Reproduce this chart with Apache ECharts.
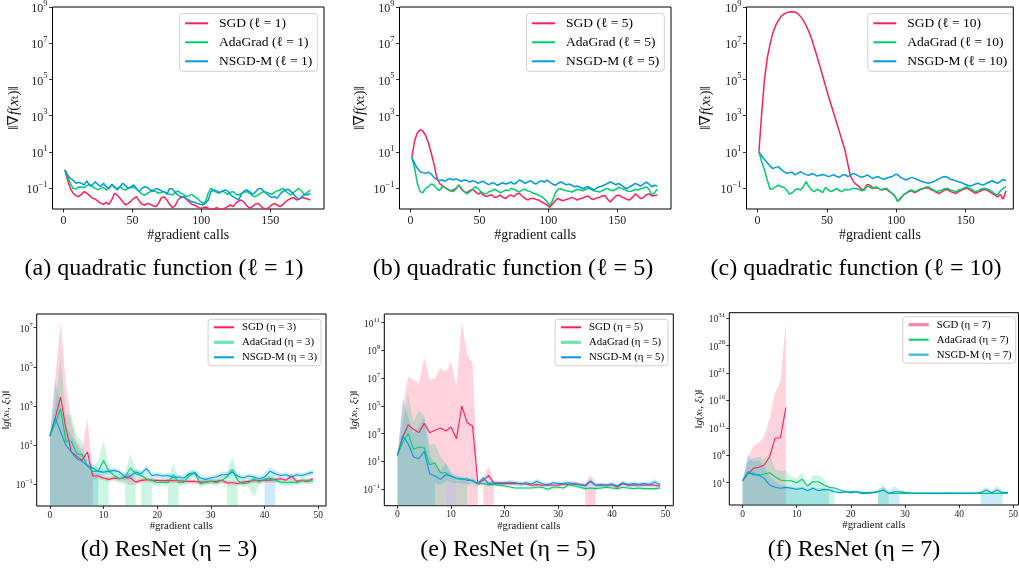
<!DOCTYPE html>
<html><head><meta charset="utf-8">
<script src="https://cdn.jsdelivr.net/npm/echarts@6/dist/echarts.min.js"></script>
<style>html,body{margin:0;padding:0;background:#fff}#c{width:1019px;height:569px}</style>
</head><body><div id="c"></div>
<script>
// ---------- DATA (all y values are log10 of the plotted norm) ----------
// top row: gradient calls 1,3,5,...,179
const TOP_X = Array.from({length: 90}, (_, i) => 2 * i + 1);
const A_SGD = [0,-0.56,-1.02,-1.29,-1.42,-1.48,-1.35,-1.2,-1.29,-1.42,-1.57,-1.61,-1.72,-1.85,-1.9,-1.79,-1.9,-1.66,-1.29,-1.39,-1.57,-1.76,-1.94,-1.85,-1.72,-1.57,-1.48,-1.72,-1.9,-1.94,-1.85,-1.9,-1.98,-2.03,-1.85,-1.53,-1.48,-1.66,-1.9,-2.09,-1.98,-1.66,-1.53,-1.48,-1.61,-1.76,-1.9,-1.94,-2.03,-2.12,-2.09,-2.05,-2.12,-2.2,-2.16,-2.09,-2.16,-2.2,-2.12,-2.03,-1.94,-2.03,-1.85,-1.72,-1.66,-1.79,-1.98,-2.12,-2.03,-1.9,-1.85,-1.98,-2.12,-2.16,-2.09,-1.94,-1.85,-1.94,-2.03,-1.94,-1.76,-1.66,-1.57,-1.53,-1.66,-1.61,-1.53,-1.57,-1.61,-1.66];
const A_ADA = [0,-0.37,-0.74,-1.02,-1.06,-0.93,-0.94,-0.98,-0.87,-0.8,-0.93,-1.02,-1.09,-1.02,-0.98,-1.11,-1.02,-0.8,-0.98,-1.02,-0.93,-1.06,-1.11,-1.02,-0.98,-0.93,-1.06,-1.2,-1.35,-1.39,-1.29,-1.2,-1.11,-1.2,-1.29,-1.24,-1.2,-1.29,-1.35,-1.39,-1.24,-1.16,-1.29,-1.35,-1.48,-1.42,-1.35,-1.48,-1.57,-1.72,-1.85,-1.76,-1.29,-1.02,-1.16,-1.24,-1.29,-1.16,-1.24,-1.35,-1.24,-1.2,-1.35,-1.39,-1.29,-1.24,-1.2,-1.29,-1.42,-1.48,-1.39,-1.29,-1.2,-1.24,-1.29,-1.35,-1.24,-1.16,-1.11,-1.02,-1.16,-1.29,-1.39,-1.24,-1.11,-1.02,-1.2,-1.39,-1.24,-1.11];
const A_NSGD = [0,-0.28,-0.47,-0.56,-0.74,-0.69,-0.74,-0.83,-0.61,-0.87,-0.83,-0.65,-0.8,-0.93,-0.74,-0.93,-1.02,-0.8,-0.93,-1.11,-0.93,-0.74,-0.87,-1.02,-0.93,-0.83,-1.02,-1.2,-1.02,-0.93,-0.98,-1.11,-1.2,-1.02,-1.07,-1.16,-1.2,-1.35,-1.02,-1.05,-1.24,-1.39,-1.48,-1.48,-1.61,-1.66,-1.76,-1.79,-1.85,-1.9,-1.94,-1.85,-1.66,-1.2,-1.11,-1.16,-1.24,-1.2,-1.11,-1.16,-1.35,-1.48,-1.57,-1.66,-1.35,-1.16,-1.11,-1.2,-1.35,-1.24,-1.05,-1.02,-1.16,-1.29,-1.42,-1.53,-1.48,-1.57,-1.35,-1.2,-1.11,-1.07,-1.2,-1.35,-1.53,-1.61,-1.48,-1.35,-1.39,-1.29];
const B_SGD = [0.69,1.6,2.05,2.22,2.15,1.9,1.5,0.95,0.35,-0.4,-0.74,-0.89,-0.96,-1.07,-1.15,-1.11,-1.02,-0.83,-1.07,-1.2,-1.26,-1.15,-1.07,-1.2,-1.33,-1.26,-1.39,-1.48,-1.41,-1.37,-1.52,-1.48,-1.39,-1.52,-1.57,-1.44,-1.39,-1.48,-1.33,-1.29,-1.44,-1.57,-1.66,-1.59,-1.57,-1.63,-1.66,-1.76,-1.85,-1.94,-2.07,-1.88,-1.7,-1.57,-1.66,-1.7,-1.63,-1.59,-1.52,-1.59,-1.66,-1.59,-1.55,-1.48,-1.44,-1.59,-1.63,-1.55,-1.52,-1.44,-1.41,-1.63,-1.77,-1.59,-1.44,-1.39,-1.48,-1.55,-1.63,-1.66,-1.52,-1.33,-1.44,-1.59,-1.52,-1.37,-1.33,-1.44,-1.41,-1.39];
const B_ADA = [0.69,0.1,-0.74,-1.2,-1.26,-1.02,-0.93,-0.78,-0.83,-1.02,-1.15,-0.93,-0.96,-1.07,-1.15,-1.2,-1.07,-0.83,-1.02,-1.2,-1.33,-1.2,-1.07,-0.93,-1.02,-1.2,-1.29,-1.33,-1.2,-1.15,-1.07,-1.15,-1.26,-1.2,-1.11,-1.15,-1.02,-1.07,-1.15,-1.22,-1.11,-1.07,-1.15,-1.2,-1.29,-1.33,-1.39,-1.48,-1.59,-1.76,-1.99,-1.7,-1.29,-1.07,-1.04,-1.11,-1.15,-1.18,-1.22,-1.15,-1.07,-1.11,-1.15,-1.07,-1.02,-1.07,-1.15,-1.18,-1.22,-1.15,-1.07,-1.02,-1.11,-1.15,-1.07,-0.96,-1.02,-1.07,-1.15,-1.2,-1.15,-1.07,-1.11,-1.04,-1.0,-0.93,-1.07,-1.39,-1.26,-1.07];
const B_NSGD = [0.69,0.36,0.09,-0.1,-0.15,-0.19,-0.12,-0.23,-0.41,-0.52,-0.59,-0.56,-0.63,-0.52,-0.48,-0.56,-0.48,-0.56,-0.63,-0.56,-0.59,-0.67,-0.59,-0.65,-0.74,-0.67,-0.63,-0.74,-0.82,-0.71,-0.74,-0.85,-0.78,-0.71,-0.78,-0.74,-0.67,-0.78,-0.71,-0.56,-0.63,-0.74,-0.67,-0.59,-0.71,-0.78,-0.67,-0.59,-0.67,-0.56,-0.67,-0.78,-0.85,-0.74,-0.67,-0.74,-0.82,-0.78,-0.85,-0.93,-0.89,-0.96,-1.04,-0.96,-0.93,-1.02,-1.11,-1.0,-0.93,-0.89,-0.82,-0.74,-0.67,-0.74,-0.82,-0.74,-0.85,-0.96,-1.04,-0.93,-0.85,-0.74,-0.82,-0.89,-0.78,-0.67,-0.78,-0.93,-0.85,-0.89];
const C_SGD = [1.0,3.14,4.99,6.18,6.92,7.56,7.97,8.26,8.48,8.61,8.69,8.72,8.74,8.72,8.63,8.48,8.26,7.97,7.64,7.23,6.73,6.24,5.72,5.17,4.65,4.1,3.6,3.1,2.6,2.1,1.6,1.1,0.35,-0.35,-0.62,-0.8,-0.9,-1.1,-1.05,-0.8,-0.85,-0.98,-1.0,-1.02,-1.1,-1.08,-1.06,-1.2,-1.3,-1.45,-1.72,-1.6,-1.4,-1.3,-1.2,-1.15,-1.25,-1.2,-1.1,-1.05,-1.0,-0.98,-1.1,-1.15,-1.25,-1.3,-1.2,-1.1,-1.08,-1.2,-1.25,-1.3,-1.2,-1.12,-1.06,-1.0,-1.1,-1.2,-1.3,-1.22,-1.15,-1.08,-1.1,-1.2,-1.3,-1.4,-1.5,-1.35,-1.62,-1.15];
const C_ADA = [1.0,0.45,0.0,-0.56,-1.07,-1.04,-0.93,-0.85,-0.93,-0.96,-1.11,-1.33,-1.26,-1.11,-1.04,-1.11,-0.93,-0.65,-0.93,-1.11,-1.2,-1.07,-1.15,-1.26,-0.96,-1.11,-1.2,-1.11,-1.04,-1.15,-1.2,-1.07,-1.11,-1.07,-1.02,-1.04,-1.07,-1.15,-1.11,-0.89,-0.96,-1.04,-0.93,-1.0,-1.11,-1.04,-1.02,-1.15,-1.29,-1.44,-1.75,-1.57,-1.38,-1.29,-1.15,-1.11,-1.2,-1.15,-1.07,-1.02,-0.96,-0.93,-1.04,-1.11,-1.2,-1.15,-1.11,-1.04,-1.02,-1.11,-1.15,-1.2,-1.11,-1.07,-1.0,-0.93,-1.04,-1.11,-1.2,-1.15,-1.07,-1.02,-1.04,-1.11,-1.2,-1.33,-1.38,-1.15,-1.02,-0.93];
const C_NSGD = [1.0,0.77,0.58,0.4,0.22,0.07,0.14,0.18,0.03,-0.1,-0.19,-0.15,-0.13,-0.28,-0.19,-0.1,-0.19,-0.26,-0.3,-0.21,-0.25,-0.34,-0.3,-0.25,-0.3,-0.37,-0.32,-0.26,-0.37,-0.41,-0.3,-0.26,-0.37,-0.3,-0.19,-0.26,-0.34,-0.41,-0.37,-0.28,-0.37,-0.47,-0.41,-0.37,-0.47,-0.52,-0.45,-0.41,-0.37,-0.26,-0.26,-0.41,-0.48,-0.56,-0.48,-0.41,-0.47,-0.52,-0.6,-0.65,-0.7,-0.74,-0.7,-0.65,-0.56,-0.48,-0.41,-0.37,-0.41,-0.52,-0.56,-0.6,-0.67,-0.7,-0.78,-0.83,-0.89,-0.85,-0.78,-0.74,-0.81,-0.83,-0.74,-0.67,-0.6,-0.67,-0.74,-0.63,-0.52,-0.6];

// bottom row: gradient calls 0..49 ; null = band lower bound not positive (goes to -inf on log axis)
const BOT_X = Array.from({length: 50}, (_, i) => i);
const D_SGD = [1.46,2.38,3.46,1.84,0.65,0.44,0.22,0.65,-0.58,-0.58,-0.68,-0.75,-0.68,-0.72,-0.65,-0.68,-0.89,-0.8,-0.77,-0.79,-0.8,-0.82,-0.8,-0.82,-0.82,-0.84,-0.85,-0.85,-0.89,-0.89,-0.85,-0.85,-0.8,-0.92,-0.92,-0.96,-0.89,-0.85,-0.82,-0.82,-0.79,-0.79,-0.75,-0.72,-0.79,-0.58,-0.85,-0.8,-0.85,-0.72];
const D_SGD_UP = [1.46,4.39,7.26,4.05,2.18,1.16,0.82,2.32,-0.45,-0.47,-0.58,-0.65,-0.58,-0.62,-0.5,-0.45,-0.7,-0.7,-0.67,-0.69,-0.7,-0.72,-0.7,-0.72,-0.72,-0.74,-0.75,-0.75,-0.79,-0.79,-0.75,-0.75,-0.7,-0.82,-0.82,-0.86,-0.79,-0.75,-0.72,-0.72,-0.69,-0.69,-0.65,-0.62,-0.69,-0.42,-0.75,-0.7,-0.75,-0.62];
const D_SGD_LO = [null,null,null,null,null,null,null,null,-0.75,-0.72,-0.8,-0.88,-0.8,-0.85,-0.9,-1.05,-1.0,-0.92,-0.9,-0.92,-0.93,-0.95,-0.93,-0.95,-0.95,-0.97,-0.98,-0.98,-1.02,-1.02,-0.98,-0.98,-0.93,-1.05,-1.05,-1.09,-1.02,-0.98,-0.95,-0.95,-0.92,-0.92,-0.88,-0.85,-0.92,-0.78,-0.98,-0.93,-0.98,-0.85];
const D_ADA = [1.46,2.09,2.86,1.19,1.19,0.56,0.51,-0.07,-0.34,-0.34,0.22,-0.34,-0.55,-0.72,-0.63,-0.17,-0.46,-0.55,-0.72,-0.8,-0.92,-0.89,-0.92,-0.51,-0.92,-0.89,-0.55,-0.41,-0.97,-0.89,-0.85,-0.92,-0.8,-0.63,-0.24,-0.8,-0.97,-0.92,-0.72,-0.89,-0.75,-0.68,-0.8,-0.89,-0.92,-0.89,-0.92,-0.8,-0.8,-0.85];
const D_ADA_UP = [1.46,3.0,5.5,2.6,2.52,1.5,1.16,0.0,-0.1,0.2,1.24,-0.1,-0.4,-0.5,-0.45,0.56,-0.25,-0.35,-0.5,-0.65,-0.75,-0.7,-0.75,0.05,-0.75,-0.7,-0.4,-0.3,-0.8,-0.7,-0.7,-0.75,-0.65,-0.4,0.44,-0.6,-0.8,-0.75,-0.55,-0.7,-0.6,-0.55,-0.65,-0.75,-0.78,-0.75,-0.8,-0.68,-0.68,-0.7];
const D_ADA_LO = [null,null,null,null,null,null,null,null,null,null,null,-0.65,-0.8,-0.95,-1.0,null,-0.7,-0.8,null,-1.0,-1.1,-1.05,-1.1,null,-1.1,-1.05,-0.8,-0.6,-1.15,-1.05,-1.0,-1.1,-0.95,-0.9,null,-1.0,-1.15,-1.1,-1.65,-1.05,-0.9,-0.85,-0.95,-1.05,-1.1,-1.05,-1.05,-0.95,-0.95,-1.0];
const D_NSGD = [1.46,2.38,1.67,0.99,0.65,0.31,0.17,-0.04,-0.17,-0.34,-0.38,-0.34,-0.29,-0.38,-0.63,-0.58,-0.38,-0.46,-0.2,-0.55,-0.51,-0.58,-0.55,-0.65,-0.63,-0.68,-0.46,-0.41,-0.68,-0.75,-0.68,-0.63,-0.51,-0.51,-0.38,-0.58,-0.68,-0.58,-0.63,-0.72,-0.63,-0.34,-0.46,-0.55,-0.51,-0.63,-0.51,-0.55,-0.46,-0.38];
const D_NSGD_UP = [1.46,4.3,3.0,2.0,1.5,1.0,0.6,0.3,0.0,-0.15,-0.2,-0.2,-0.15,-0.25,-0.45,-0.4,-0.2,-0.3,-0.05,-0.4,-0.38,-0.45,-0.42,-0.5,-0.5,-0.55,-0.3,-0.25,-0.55,-0.6,-0.55,-0.5,-0.35,-0.35,-0.2,-0.45,-0.55,-0.45,-0.5,-0.6,-0.45,-0.1,-0.3,-0.42,-0.38,-0.5,-0.38,-0.42,-0.33,-0.25];
const D_NSGD_LO = [null,null,null,null,null,null,null,null,null,-0.55,-0.55,-0.5,-0.45,-0.55,-0.8,-0.75,-0.55,-0.6,-0.4,-0.7,-0.65,-0.72,-0.68,-0.8,-0.78,-0.82,-0.62,-0.58,-0.82,-0.9,-0.82,-0.78,-0.66,-0.68,-0.55,-0.72,-0.82,-0.72,-0.78,-0.85,-0.82,null,-0.62,-0.68,-0.65,-0.78,-0.65,-0.68,-0.6,-0.52];

const E_SGD = [1.43,2.75,3.64,3.31,3.07,3.74,3.07,3.24,3.4,3.19,3.48,2.63,4.99,3.79,3.55,-0.61,-0.37,-0.01,-0.61,-0.61,-0.59,-0.61,-0.61,-0.61,-0.63,-0.73,-0.68,-0.73,-0.68,-0.73,-0.73,-0.63,-0.68,-0.61,-0.68,-0.73,-0.44,-0.73,-0.73,-0.73,-0.68,-0.85,-0.61,-0.73,-0.73,-0.68,-0.73,-0.68,-0.73,-0.78];
const E_SGD_UP = [1.43,5.0,7.06,6.9,6.6,8.5,6.87,7.0,7.7,7.45,8.2,6.4,11.06,8.7,8.1,-0.4,-0.2,0.66,-0.45,-0.48,-0.47,-0.49,-0.49,-0.49,-0.5,-0.6,-0.55,-0.6,-0.55,-0.6,-0.6,-0.5,-0.55,-0.45,-0.55,-0.6,0.04,-0.6,-0.6,-0.6,-0.55,-0.72,-0.48,-0.6,-0.6,-0.55,-0.6,-0.55,-0.6,-0.65];
const E_SGD_LO = [null,null,null,null,null,null,null,null,null,null,null,null,null,null,null,-0.8,-0.6,null,-0.75,-0.75,-0.72,-0.74,-0.74,-0.74,-0.76,-0.86,-0.81,-0.86,-0.81,-0.86,-0.86,-0.76,-0.81,-0.74,-0.81,-0.86,null,-0.86,-0.86,-0.86,-0.81,-0.98,-0.74,-0.86,-0.86,-0.81,-0.86,-0.81,-0.86,-0.91];
const E_ADA = [1.43,2.39,3.0,1.87,2.03,1.96,0.76,0.9,0.18,0.18,-0.08,-0.25,-0.3,-0.25,-0.44,-0.61,-0.61,-0.68,-0.68,-0.73,-0.78,-0.85,-0.92,-0.92,-0.92,-0.92,-0.87,-0.87,-1.02,-0.87,-0.87,-0.92,-0.68,-0.78,-0.87,-0.97,-0.92,-0.97,-0.92,-0.87,-0.92,-0.97,-0.87,-0.92,-0.97,-0.92,-0.97,-0.97,-0.97,-0.92];
const E_ADA_UP = [1.43,3.84,5.85,3.84,4.7,4.27,2.2,2.3,1.35,0.87,0.15,-0.45,-0.33,-0.45,-0.69,-0.69,-0.5,-0.55,-0.58,-0.63,-0.68,-0.75,-0.82,-0.82,-0.82,-0.82,-0.77,-0.77,-0.92,-0.77,-0.77,-0.82,-0.58,-0.68,-0.77,-0.87,-0.82,-0.87,-0.82,-0.77,-0.82,-0.87,-0.77,-0.82,-0.87,-0.82,-0.87,-0.87,-0.87,-0.82];
const E_ADA_LO = [null,null,null,null,null,null,null,null,null,-0.4,-0.5,-0.6,null,-0.7,-0.75,-0.75,-0.72,-0.8,-0.8,-0.85,-0.9,-0.97,-1.04,-1.04,-1.04,-1.04,-0.99,-0.99,-1.14,-0.99,-0.99,-1.04,-0.8,-0.9,-0.99,-1.09,-1.04,-1.09,-1.04,-0.99,-1.04,-1.09,-0.99,-1.04,-1.09,-1.04,-1.09,-1.09,-1.09,-1.04];
const E_NSGD = [1.43,2.83,2.27,1.31,1.19,1.72,0.11,-0.06,-0.3,0.03,-0.06,-0.2,-0.25,-0.37,-0.37,-0.61,-0.2,-0.61,-0.54,-0.54,-0.54,-0.49,-0.54,-0.63,-0.54,-0.63,-0.44,-0.61,-0.73,-0.54,-0.61,-0.61,-0.54,-0.63,-0.68,-0.78,-0.44,-0.73,-0.68,-0.73,-0.63,-0.78,-0.54,-0.68,-0.61,-0.68,-0.61,-0.68,-0.49,-0.68];
const E_NSGD_UP = [1.43,5.55,4.2,3.0,3.5,4.2,1.5,0.8,0.3,0.9,0.2,0.0,-0.1,-0.15,-0.2,-0.45,0.0,-0.45,-0.38,-0.4,-0.4,-0.36,-0.4,-0.48,-0.4,-0.48,-0.25,-0.45,-0.58,-0.4,-0.46,-0.46,-0.4,-0.48,-0.52,-0.62,-0.25,-0.58,-0.52,-0.58,-0.48,-0.62,-0.4,-0.52,-0.46,-0.52,-0.46,-0.5,-0.3,-0.52];
const E_NSGD_LO = [null,null,null,null,null,null,null,-0.6,-0.7,-0.5,null,-0.55,-0.6,-0.65,-0.6,-0.8,-0.45,-0.8,-0.7,-0.7,-0.7,-0.64,-0.7,-0.8,-0.7,-0.8,-0.62,-0.78,-0.9,-0.7,-0.78,-0.78,-0.7,-0.8,-0.85,-0.95,-0.62,-0.9,-0.85,-0.9,-0.8,-0.95,-0.7,-0.85,-0.78,-0.85,-0.78,-0.85,-0.68,-0.85];

const F_SGD = [1.36,2.58,3.62,3.8,4.22,5.74,9.09,9.2,14.75];
const F_SGD_UP = [1.36,5.74,7.69,8.3,9.4,12.74,17.42,19.43,30.4];
const F_SGD_LO = [null,null,null,null,null,null,null,null,null];
const F_ADA = [1.36,2.7,2.7,2.4,2.58,2.82,2.09,1.49,1.36,1.36,1.0,1.61,0.39,1.18,1.18,0.57,0.15,0.03,-0.34,-0.64,-0.64,-0.64,-0.82,-0.82,-0.82,-0.64,-0.34,-0.95,-0.95,-0.95,-0.95,-0.95,-0.95,-0.95,-0.95,-0.95,-0.95,-0.95,-0.95,-0.95,-0.95,-0.95,-0.95,-0.95,-0.92,-0.95,-0.95,-0.92,-0.95,-0.9];
const F_ADA_UP = [1.36,4.83,5.44,5.74,5.26,6.3,3.43,3.19,3.19,2.09,1.79,2.82,0.57,2.4,2.4,1.79,0.27,0.15,-0.22,-0.46,-0.46,-0.46,-0.62,-0.62,-0.62,-0.44,0.57,-0.75,-0.75,-0.75,-0.75,-0.75,-0.75,-0.75,-0.75,-0.75,-0.75,-0.75,-0.75,-0.75,-0.75,-0.75,-0.75,-0.75,-0.72,-0.75,-0.75,-0.72,-0.75,-0.7];
const F_ADA_LO = [null,null,null,null,null,null,null,null,null,null,null,null,null,null,null,null,null,-0.2,-0.5,-0.8,-0.8,-0.8,-1.0,-1.0,-1.0,-0.8,null,-1.1,-1.1,-1.1,-1.1,-1.1,-1.1,-1.1,-1.1,-1.1,-1.1,-1.1,-1.1,-1.1,-1.1,-1.1,-1.1,-1.1,-1.08,-1.1,-1.1,-1.08,-1.1,-1.05];
const F_NSGD = [1.36,3.0,2.4,2.4,1.79,0.57,0.15,-0.03,0.15,-0.03,-0.22,-0.03,-0.46,-0.03,-0.46,-0.22,-0.34,-0.64,-0.82,-0.64,-0.82,-0.64,-0.95,-0.95,-0.82,-0.64,-0.34,-0.95,-0.64,-0.64,-0.82,-0.88,-0.92,-0.92,-0.92,-0.95,-0.95,-0.95,-0.88,-0.92,-0.92,-0.95,-0.92,-0.92,-0.82,-0.34,-0.82,-0.34,-0.82,-0.82];
const F_NSGD_UP = [1.36,6.05,4.83,5.14,3.92,2.09,1.18,0.57,0.5,0.35,0.15,0.35,-0.1,0.3,-0.1,0.1,-0.05,-0.35,-0.55,-0.35,-0.55,-0.35,-0.65,-0.65,-0.55,-0.3,0.27,-0.65,0.39,-0.35,-0.55,-0.6,-0.65,-0.65,-0.65,-0.68,-0.68,-0.68,-0.6,-0.65,-0.65,-0.68,-0.65,-0.65,-0.5,0.27,-0.5,0.39,-0.5,-0.55];
const F_NSGD_LO = [null,null,null,null,null,null,null,null,null,null,null,null,null,null,null,null,-0.6,-0.9,-1.05,-0.9,-1.05,-0.9,-1.15,-1.15,-1.05,-0.9,null,-1.15,null,-0.9,-1.05,-1.1,-1.12,-1.12,-1.12,-1.15,-1.15,-1.15,-1.1,-1.12,-1.12,-1.15,-1.12,-1.12,-1.05,null,null,null,-1.05,-1.05];

// tick positions (log10 exponents for y)
const TOP_XTICKS = [0, 50, 100, 150];
const BOT_XTICKS = [0, 10, 20, 30, 40, 50];
const TOP_YTICKS = [-1, 1, 3, 5, 7, 9];
const D_YTICKS = [-1, 1, 3, 5, 7];
const E_YTICKS = [-1, 1, 3, 5, 7, 9, 11];
const F_YTICKS = [1, 6, 11, 16, 21, 26, 31];

const CAPTIONS = ['(a) quadratic function (ℓ = 1)', '(b) quadratic function (ℓ = 5)', '(c) quadratic function (ℓ = 10)',
                  '(d) ResNet (η = 3)', '(e) ResNet (η = 5)', '(f) ResNet (η = 7)'];

// ---------- CHART BUILD ----------
const FONT = "'Liberation Serif', 'DejaVu Serif', serif";
const RED = '#ff1f5b', GREEN = '#00cd6c', BLUE = '#009ade';
const supTxt = v => { const r = Math.round(v); return r < 0 ? '−' + Math.abs(r) : String(r); };

const panels = [
  {grid:{left:52.5, top:7, width:271.5, height:202}, x:[-7.95,188.95], y:[-2.16,9], xt:TOP_XTICKS, yt:TOP_YTICKS, top:true,
   lines:[['SGD (ℓ = 1)',A_SGD,RED],['AdaGrad (ℓ = 1)',A_ADA,GREEN],['NSGD-M (ℓ = 1)',A_NSGD,BLUE]], legend:{right:701.7, top:13.3}, cap:[164,269], nameGap:31},
  {grid:{left:399.5, top:7, width:271.5, height:202}, x:[-7.95,188.95], y:[-2.16,9], xt:TOP_XTICKS, yt:TOP_YTICKS, top:true,
   lines:[['SGD (ℓ = 5)',B_SGD,RED],['AdaGrad (ℓ = 5)',B_ADA,GREEN],['NSGD-M (ℓ = 5)',B_NSGD,BLUE]], legend:{right:354.7, top:13.3}, cap:[513,269], nameGap:32},
  {grid:{left:746.5, top:7, width:266.8, height:202}, x:[-7.95,184.3], y:[-2.16,9], xt:TOP_XTICKS, yt:TOP_YTICKS, top:true,
   lines:[['SGD (ℓ = 10)',C_SGD,RED],['AdaGrad (ℓ = 10)',C_ADA,GREEN],['NSGD-M (ℓ = 10)',C_NSGD,BLUE]], legend:{right:6.7, top:13.3}, cap:[856,269], nameGap:33},
  {grid:{left:36.7, top:314, width:289.3, height:192}, x:[-2.45,51.45], y:[-2.11,7.70], xt:BOT_XTICKS, yt:D_YTICKS, top:false,
   lines:[['SGD (η = 3)',D_SGD,RED,D_SGD_LO,D_SGD_UP],['AdaGrad (η = 3)',D_ADA,GREEN,D_ADA_LO,D_ADA_UP],['NSGD-M (η = 3)',D_NSGD,BLUE,D_NSGD_LO,D_NSGD_UP]],
   legend:{right:698, top:319.3}, cap:[169,550], nameGap:24, thick:[1]},
  {grid:{left:384.3, top:314, width:289, height:191.7}, x:[-2.45,51.45], y:[-2.2,11.63], xt:BOT_XTICKS, yt:E_YTICKS, top:false,
   lines:[['SGD (η = 5)',E_SGD,RED,E_SGD_LO,E_SGD_UP],['AdaGrad (η = 5)',E_ADA,GREEN,E_ADA_LO,E_ADA_UP],['NSGD-M (η = 5)',E_NSGD,BLUE,E_NSGD_LO,E_NSGD_UP]],
   legend:{right:351, top:319.3}, cap:[508,550], nameGap:24, thick:[1]},
  {grid:{left:729.3, top:312.7, width:289.2, height:192.3}, x:[-2.45,50.96], y:[-3.07,32.0], xt:BOT_XTICKS, yt:F_YTICKS, top:false,
   lines:[['SGD (η = 7)',F_SGD,RED,F_SGD_LO,F_SGD_UP],['AdaGrad (η = 7)',F_ADA,GREEN,F_ADA_LO,F_ADA_UP],['NSGD-M (η = 7)',F_NSGD,BLUE,F_NSGD_LO,F_NSGD_UP]],
   legend:{right:3.3, top:316.7}, cap:[854,550], nameGap:21, thick:[0,2]}
];

// band as one polygon (upper edge then lower edge), mapped through the axes with api.coord
function bandSeries(k, xs, lo, up, color, yMin) {
  const floor = yMin - 80; // lower bound <= 0 -> -infinity on a log axis
  const data = xs.map((x, i) => [x, lo[i] == null ? floor : lo[i], up[i]]);
  return {
    type:'custom', xAxisIndex:k, yAxisIndex:k, silent:true, z:1, data, encode:{x:0, y:[1,2]},
    renderItem: (params, api) => {
      if (params.dataIndex !== 0) return null;
      const pts = [];
      for (let i = 0; i < data.length; i++) pts.push(api.coord([data[i][0], data[i][2]]));
      for (let i = data.length - 1; i >= 0; i--) pts.push(api.coord([data[i][0], data[i][1]]));
      const cs = params.coordSys;
      return {type:'polygon', shape:{points:pts}, style:{fill:color, opacity:0.2},
              clipPath:{type:'rect', shape:{x:cs.x, y:cs.y, width:cs.width, height:cs.height}}};
    }
  };
}

const option = {animation:false, backgroundColor:'#fff', grid:[], xAxis:[], yAxis:[], series:[], legend:[], graphic:[]};

panels.forEach((p, k) => {
  const T = p.top;
  const tickFs = T ? 12 : 9.5, supFs = T ? 8.5 : 7;
  const nfs = T ? 15 : 11;
  option.grid.push(Object.assign({show:true, borderColor:'#000', borderWidth:1, containLabel:false, outerBoundsMode:'none'}, p.grid));
  option.xAxis.push({type:'value', gridIndex:k, min:p.x[0], max:p.x[1], splitLine:{show:false}, axisLine:{show:false, onZero:false},
    axisTick:{show:true, length:T?3.5:3, customValues:p.xt, lineStyle:{color:'#000', width:0.8}},
    axisLabel:{customValues:p.xt, margin:T?6:4, fontFamily:FONT, fontSize:T?12:9.5, color:'#222'},
    name:'#gradient calls', nameLocation:'middle', nameGap:T?17:11, nameTextStyle:{fontFamily:FONT, fontSize:T?14:10.8, color:'#111'}});
  option.yAxis.push({type:'value', gridIndex:k, min:p.y[0], max:p.y[1], splitLine:{show:false}, axisLine:{show:false, onZero:false},
    axisTick:{show:true, length:T?3.5:3, customValues:p.yt, lineStyle:{color:'#000', width:0.8}},
    axisLabel:{customValues:p.yt, margin:T?5:4, formatter: v => '{b|10}{s|' + supTxt(v) + '}',
      rich:{b:{fontFamily:FONT, fontSize:tickFs, color:'#222', verticalAlign:'bottom', lineHeight:T?16:13},
            s:{fontFamily:FONT, fontSize:supFs, color:'#222', verticalAlign:'top', lineHeight:T?16:13}}},
    name: T ? '{n|‖∇}{i|f}{n|(}{i|x}{n|ₜ)‖}' : '{n|‖}{i|g}{n|(}{i|x}{n|ₜ, }{i|ξ}{n|ₜ)‖}',
    nameLocation:'middle', nameRotate:90, nameGap:p.nameGap,
    nameTextStyle:{fontFamily:FONT, fontSize:nfs, color:'#111',
      rich:{n:{fontFamily:FONT, fontSize:nfs, color:'#111'}, i:{fontFamily:FONT, fontSize:nfs, fontStyle:'italic', color:'#111'}}}});

  p.lines.forEach(L => {
    if (!L[3]) return;
    option.series.push(bandSeries(k, BOT_X.slice(0, L[1].length), L[3], L[4], L[2], p.y[0]));
  });
  p.lines.forEach(L => {
    const xs = T ? TOP_X : BOT_X.slice(0, L[1].length);
    option.series.push({type:'line', name:L[0], xAxisIndex:k, yAxisIndex:k, data: xs.map((x, i) => [x, L[1][i]]),
      symbol:'none', lineStyle:{color:L[2], width:T?1.5:1.1}, itemStyle:{color:L[2]}, silent:true, z:3});
  });
  option.legend.push({orient:'vertical', right:p.legend.right, top:p.legend.top, selectedMode:false,
    data: p.lines.map((L, j) => {
      const d = {name:L[0]};
      if (p.thick && p.thick.includes(j)) d.lineStyle = {width:j === 2 ? 2.4 : 3.2, opacity:j === 2 ? 0.7 : 0.55};
      return d;
    }),
    itemStyle:{color:'rgba(0,0,0,0)', borderWidth:0, opacity:0},
    itemWidth:T?23:20, itemHeight:T?14:12, itemGap:T?5:4, padding:T?[3,5,3,4.5]:[2.5,4,3,4.3],
    backgroundColor:'rgba(255,255,255,0.85)', borderColor:'#d0d0d0', borderWidth:1, borderRadius:3,
    textStyle:{fontFamily:FONT, fontSize:T?13.5:10.8, color:'#000', padding:[0,0,0,T?6:3]}});
  option.graphic.push({type:'text', x:p.cap[0], y:p.cap[1], silent:true,
    style:{text:CAPTIONS[k], fontFamily:FONT, fontSize:24, fill:'#000', align:'center', verticalAlign:'middle',
           textAlign:'center', textVerticalAlign:'middle'}});
});

const chart = echarts.init(document.getElementById('c'), null, {renderer:'canvas', width:1019, height:569});
chart.setOption(option);
</script>
</body></html>
